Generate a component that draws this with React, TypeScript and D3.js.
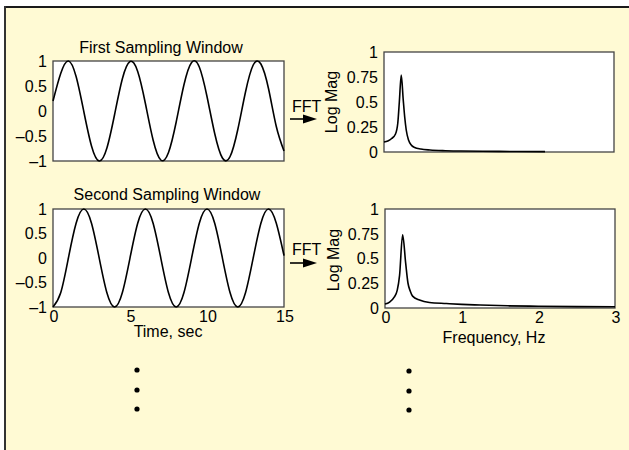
import React from "react";
import * as d3 from "d3";

// ---- data ----
const timeSec = [0, 0.5, 1, 1.5, 2, 2.5, 3, 3.5, 4, 4.5, 5, 5.5, 6, 6.5, 7, 7.5, 8, 8.5, 9, 9.5, 10, 10.5, 11, 11.5, 12, 12.5, 13, 13.5, 14, 14.5, 15];
const firstWindow = [0.2, 0.75, 1.0, 0.69, -0.01, -0.7, -1.0, -0.74, -0.07, 0.64, 0.99, 0.79, 0.15, -0.58, -0.98, -0.83, -0.22, 0.52, 0.97, 0.88, 0.29, -0.45, -0.94, -0.91, -0.37, 0.38, 0.92, 0.94, 0.44, -0.31, -0.8];
const secondWindow = [-1, -0.71, 0, 0.71, 1, 0.71, 0, -0.71, -1, -0.71, 0, 0.71, 1, 0.71, 0, -0.71, -1, -0.71, 0, 0.71, 1, 0.71, 0, -0.71, -1, -0.71, 0, 0.71, 1, 0.71, 0.05];

const freq1 = [0, 0.05, 0.1, 0.15, 0.18, 0.2, 0.225, 0.25, 0.27, 0.29, 0.32, 0.355, 0.4, 0.48, 0.6, 0.8, 1.0, 1.5, 2.1];
const mag1 = [0.1, 0.11, 0.135, 0.18, 0.29, 0.5, 0.77, 0.53, 0.35, 0.22, 0.12, 0.07, 0.045, 0.03, 0.02, 0.013, 0.01, 0.006, 0.004];
const freq2 = [0, 0.06, 0.12, 0.16, 0.19, 0.23, 0.27, 0.3, 0.33, 0.36, 0.45, 0.58, 0.8, 1.0, 1.24, 1.6, 2.0, 2.5, 3.0];
const mag2 = [0.04, 0.06, 0.11, 0.18, 0.33, 0.74, 0.45, 0.25, 0.17, 0.12, 0.08, 0.055, 0.045, 0.037, 0.03, 0.022, 0.018, 0.014, 0.012];

const timeTicks = [0, 5, 10, 15];
const ampTicks = [1, 0.5, 0, -0.5, -1];
const freqTicks = [0, 1, 2, 3];
const magTicks = [1, 0.75, 0.5, 0.25, 0];

const FONT = "'Liberation Sans', Arial, Helvetica, sans-serif";
const FS = 16;
const BG = "#FFFAD4";

const fmt = (v: number) => (v < 0 ? "\u2013" + String(-v) : String(v));

type Box = { x0: number; x1: number; y0: number; y1: number };

function Panel({ box, xs, ys, xDomain, yDomain, yTicks, xTicks, curve }: {
  box: Box; xs: number[]; ys: number[]; xDomain: [number, number]; yDomain: [number, number];
  yTicks: number[]; xTicks?: number[]; curve: d3.CurveFactory;
}) {
  const x = d3.scaleLinear().domain(xDomain).range([box.x0, box.x1]);
  const y = d3.scaleLinear().domain(yDomain).range([box.y1, box.y0]);
  const pts = xs.map((v, i) => [v, ys[i]] as [number, number]);
  const line = d3.line<[number, number]>().x(d => x(d[0])).y(d => y(d[1])).curve(curve);
  return (
    <g>
      <rect x={box.x0} y={box.y0} width={box.x1 - box.x0} height={box.y1 - box.y0} fill="#fff" stroke="#444" strokeWidth={1.3} />
      <path d={line(pts) || ""} fill="none" stroke="#000" strokeWidth={1.6} />
      {yTicks.map(t => (
        <text key={"y" + t} x={box.x0 - 6} y={y(t)} dy="0.36em" textAnchor="end" fontSize={FS} fontFamily={FONT}>{fmt(t)}</text>
      ))}
      {xTicks && xTicks.map(t => (
        <text key={"x" + t} x={x(t) + 1} y={box.y1 + 15} textAnchor="middle" fontSize={FS} fontFamily={FONT}>{fmt(t)}</text>
      ))}
    </g>
  );
}

function Arrow({ x, y, by }: { x: number; y: number; by: number }) {
  return (
    <g>
      <text x={x + 2} y={by} fontSize={FS} fontFamily={FONT}>FFT</text>
      <line x1={x} y1={y} x2={x + 16} y2={y} stroke="#000" strokeWidth={1.6} />
      <path d={`M${x + 13},${y - 4.5} L${x + 27},${y} L${x + 13},${y + 4.5} Z`} fill="#000" />
    </g>
  );
}

export default function App() {
  const tl: Box = { x0: 53, x1: 284, y0: 61, y1: 161 };
  const bl: Box = { x0: 53, x1: 284, y0: 209, y1: 307 };
  const tr: Box = { x0: 384, x1: 614, y0: 52, y1: 152 };
  const br: Box = { x0: 385, x1: 615, y0: 209, y1: 308 };
  const dotsY = [370, 390, 409];
  return (
    <svg width={629} height={450} style={{ position: "absolute", left: 0, top: 0 }}>
      <rect x={0} y={0} width={629} height={450} fill="#fff" />
      <rect x={5} y={7} width={624} height={443} fill={BG} />
      <line x1={4} y1={7} x2={629} y2={7} stroke="#1a1a1a" strokeWidth={2} />
      <line x1={5} y1={6} x2={5} y2={450} stroke="#333" strokeWidth={2} />

      <text x={161} y={53} textAnchor="middle" fontSize={FS} fontFamily={FONT}>First Sampling Window</text>
      <Panel box={tl} xs={timeSec} ys={firstWindow} xDomain={[0, 15]} yDomain={[-1, 1]} yTicks={ampTicks} curve={d3.curveNatural} />

      <text x={167} y={200} textAnchor="middle" fontSize={FS} fontFamily={FONT}>Second Sampling Window</text>
      <Panel box={bl} xs={timeSec} ys={secondWindow} xDomain={[0, 15]} yDomain={[-1, 1]} yTicks={ampTicks} xTicks={timeTicks} curve={d3.curveNatural} />
      <text x={168} y={337} textAnchor="middle" fontSize={FS} fontFamily={FONT}>Time, sec</text>

      <Panel box={tr} xs={freq1} ys={mag1} xDomain={[0, 3]} yDomain={[0, 1]} yTicks={magTicks} curve={d3.curveMonotoneX} />
      <text transform={`translate(337,102) rotate(-90)`} textAnchor="middle" fontSize={FS} fontFamily={FONT}>Log Mag</text>

      <Panel box={br} xs={freq2} ys={mag2} xDomain={[0, 3]} yDomain={[0, 1]} yTicks={magTicks} xTicks={freqTicks} curve={d3.curveMonotoneX} />
      <text transform={`translate(339,260) rotate(-90)`} textAnchor="middle" fontSize={FS} fontFamily={FONT}>Log Mag</text>
      <text x={494} y={343} textAnchor="middle" fontSize={FS} fontFamily={FONT}>Frequency, Hz</text>

      <Arrow x={290} y={119} by={112} />
      <Arrow x={290} y={263} by={255} />

      {dotsY.map(d => <circle key={"l" + d} cx={137} cy={d} r={2.6} fill="#000" />)}
      {dotsY.map(d => <circle key={"r" + d} cx={409} cy={d + 1} r={2.6} fill="#000" />)}
    </svg>
  );
}
